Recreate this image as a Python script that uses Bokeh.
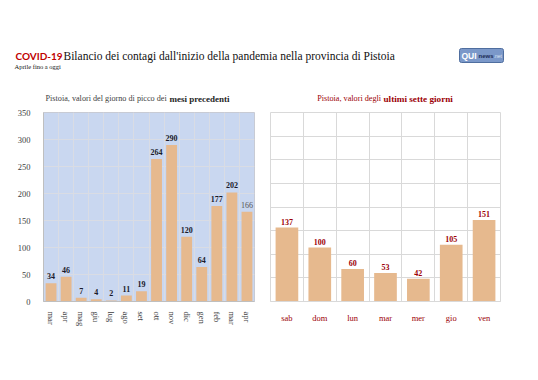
import math
from bokeh.plotting import figure
from bokeh.models import Range1d, FixedTicker, ColumnDataSource
from bokeh.layouts import column, row
from bokeh.embed import file_html
from bokeh.resources import INLINE
from bokeh.core.properties import value

# ---- data ----
months = ["mar", "apr", "mag", "giu", "lug", "ago", "set", "ott", "nov", "dic", "gen", "feb", "mar", "apr"]
month_peaks = [34, 46, 7, 4, 2, 11, 19, 264, 290, 120, 64, 177, 202, 166]
days = ["sab", "dom", "lun", "mar", "mer", "gio", "ven"]
day_values = [137, 100, 60, 53, 42, 105, 151]
y_ticks_left = [0, 50, 100, 150, 200, 250, 300, 350]

SERIF = "Liberation Serif"
BAR = "#e6b98e"
DARKRED = "#9c0006"

# ---- header ----
hdr = figure(width=538, height=104, x_range=Range1d(0, 538), y_range=Range1d(104, 0),
             output_backend="svg", toolbar_location=None, min_border=0)
hdr.axis.visible = False
hdr.grid.visible = False
hdr.outline_line_color = None

hdr.text(x=[15], y=[55.5], text=["COVID-19"], text_font=value("Lato"), text_font_style="bold",
         text_font_size="10px", text_color="#c00000", text_baseline="alphabetic")
hdr.text(x=[63], y=[55.5], text=["Bilancio dei contagi dall'inizio della pandemia nella provincia di Pistoia"],
         text_font=value(SERIF), text_font_size="11.5px", text_color="#111111", text_baseline="alphabetic")
hdr.text(x=[14], y=[65.5], text=["Aprile fino a oggi"], text_font=value(SERIF),
         text_font_size="6.5px", text_color="#111111", text_baseline="alphabetic")

# logo
hdr.quad(left=[459], right=[503], top=[48], bottom=[62], fill_color="#7b98c9", line_color="#4f6e9f",
         border_radius=2)
hdr.text(x=[461], y=[55], text=["QUI"], text_font=value("Liberation Sans"), text_font_style="bold",
         text_font_size="8.5px", text_color="white", text_baseline="middle")
hdr.text(x=[478], y=[55.5], text=["news"], text_font=value("Liberation Sans"), text_font_style="bold",
         text_font_size="6px", text_color="#1c2b55", text_baseline="middle")
hdr.text(x=[493], y=[55.5], text=[".net"], text_font=value("Liberation Sans"),
         text_font_size="5px", text_color="#dde6f5", text_baseline="middle")

# chart subtitles
hdr.text(x=[45], y=[98], text=["Pistoia, valori del giorno di picco dei"], text_font=value(SERIF),
         text_font_size="8.2px", text_color="#404040", text_baseline="middle")
hdr.text(x=[169], y=[98], text=["mesi precedenti"], text_font=value(SERIF), text_font_style="bold",
         text_font_size="9px", text_color="#262626", text_baseline="middle")
hdr.text(x=[316.7], y=[98], text=["Pistoia, valori degli"], text_font=value(SERIF),
         text_font_size="8.2px", text_color=DARKRED, text_baseline="middle")
hdr.text(x=[383], y=[98], text=["ultimi sette giorni"], text_font=value(SERIF), text_font_style="bold",
         text_font_size="9.2px", text_color=DARKRED, text_baseline="middle")

# ---- left chart ----
xl = list(range(1, len(months) + 1))
src_l = ColumnDataSource(dict(x=xl, y=month_peaks, lab=[str(v) for v in month_peaks],
                              col=["#1a1a2a"] * (len(months) - 1) + ["#555555"],
                              sty=["bold"] * (len(months) - 1) + ["normal"]))
pl = figure(width=262, height=236, x_range=Range1d(0.5, len(months) + 0.5), y_range=Range1d(0, 350),
            output_backend="svg", toolbar_location=None,
            min_border_left=43, min_border_right=8, min_border_top=8, min_border_bottom=39)
pl.background_fill_color = "#c9d7f0"
pl.outline_line_color = "#c8cbd4"
pl.vbar(x="x", top="y", width=0.72, source=src_l, fill_color=BAR, line_color=None)
pl.text(x="x", y="y", text="lab", source=src_l, y_offset=-4, text_align="center", text_baseline="bottom",
        text_font=value(SERIF), text_font_size="8px", text_font_style="sty", text_color="col")
pl.xaxis.ticker = FixedTicker(ticks=xl)
pl.xaxis.major_label_overrides = {x: m for x, m in zip(xl, months)}
pl.xaxis.major_label_orientation = -math.pi / 2
pl.yaxis.ticker = FixedTicker(ticks=y_ticks_left)
pl.xgrid.ticker = FixedTicker(ticks=[x + 0.5 for x in range(0, len(months) + 1)])
pl.grid.grid_line_color = "#d9dce4"
for ax in (pl.xaxis, pl.yaxis):
    ax.axis_line_color = "#bfbfbf"
    ax.major_tick_line_color = None
    ax.minor_tick_line_color = None
    ax.major_label_text_font = SERIF
    ax.major_label_text_font_size = "8.5px"
    ax.major_label_text_color = "#404040"
pl.yaxis.major_label_standoff = 7
pl.xaxis.major_label_standoff = 4

# ---- right chart ----
xr = list(range(1, len(days) + 1))
src_r = ColumnDataSource(dict(x=xr, y=day_values, lab=[str(v) for v in day_values]))
pr = figure(width=276, height=236, x_range=Range1d(0.5, len(days) + 0.5), y_range=Range1d(0, 350),
            output_backend="svg", toolbar_location=None,
            min_border_left=8, min_border_right=38, min_border_top=7, min_border_bottom=34)
pr.outline_line_color = "#d9d9d9"
pr.vbar(x="x", top="y", width=0.69, source=src_r, fill_color=BAR, line_color=None)
pr.text(x="x", y="y", text="lab", source=src_r, y_offset=-3, text_align="center", text_baseline="bottom",
        text_font=value(SERIF), text_font_size="8px", text_font_style="bold", text_color=DARKRED)
pr.yaxis.visible = False
pr.xaxis.ticker = FixedTicker(ticks=xr)
pr.xaxis.major_label_overrides = {x: d for x, d in zip(xr, days)}
pr.xaxis.axis_line_color = "#d9d9d9"
pr.xaxis.major_tick_line_color = None
pr.xaxis.minor_tick_line_color = None
pr.xaxis.major_label_text_font = SERIF
pr.xaxis.major_label_text_font_size = "8.5px"
pr.xaxis.major_label_text_color = DARKRED
pr.xaxis.major_label_standoff = 5
pr.xgrid.ticker = FixedTicker(ticks=[x + 0.5 for x in range(0, len(days) + 1)])
pr.ygrid.ticker = FixedTicker(ticks=[i * 350 / 8 for i in range(9)])
pr.grid.grid_line_color = "#d9d9d9"

layout = column(hdr, row(pl, pr))
open("out.html", "w").write(file_html(layout, INLINE))
